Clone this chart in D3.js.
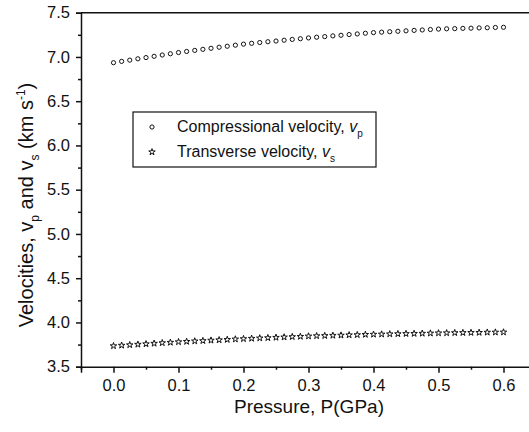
<!DOCTYPE html>
<html><head><meta charset="utf-8">
<script src="https://cdn.jsdelivr.net/npm/d3@7"></script>
<style>
body { margin: 0; background: #fff; }
text { font-family: "Liberation Sans", Arial, sans-serif; fill: #111; }
</style>
</head><body>
<svg id="chart" width="529" height="432"></svg>
<script>
var pressure = [0, 0.0125, 0.025, 0.0375, 0.05, 0.0625, 0.075, 0.0875,
    0.1, 0.1125, 0.125, 0.1375, 0.15, 0.1625, 0.175, 0.1875,
    0.2, 0.2125, 0.225, 0.2375, 0.25, 0.2625, 0.275, 0.2875,
    0.3, 0.3125, 0.325, 0.3375, 0.35, 0.3625, 0.375, 0.3875,
    0.4, 0.4125, 0.425, 0.4375, 0.45, 0.4625, 0.475, 0.4875,
    0.5, 0.5125, 0.525, 0.5375, 0.55, 0.5625, 0.575, 0.5875, 0.6];

var vp = [6.935, 6.950, 6.964, 6.979, 6.993, 7.007, 7.022, 7.036,
    7.050, 7.062, 7.074, 7.086, 7.098, 7.110, 7.121, 7.133,
    7.145, 7.154, 7.163, 7.172, 7.180, 7.189, 7.198, 7.206,
    7.215, 7.223, 7.230, 7.238, 7.245, 7.253, 7.260, 7.268,
    7.275, 7.280, 7.285, 7.290, 7.295, 7.300, 7.305, 7.310,
    7.315, 7.318, 7.320, 7.323, 7.325, 7.328, 7.330, 7.333, 7.335];

var vs = [3.735, 3.741, 3.746, 3.752, 3.757, 3.763, 3.769, 3.774,
    3.780, 3.784, 3.789, 3.793, 3.798, 3.802, 3.806, 3.811,
    3.815, 3.819, 3.823, 3.826, 3.830, 3.834, 3.838, 3.841,
    3.845, 3.848, 3.850, 3.853, 3.855, 3.858, 3.860, 3.863,
    3.865, 3.867, 3.869, 3.871, 3.873, 3.874, 3.876, 3.878,
    3.880, 3.881, 3.883, 3.884, 3.885, 3.886, 3.888, 3.889, 3.890];

var xTicks = [0, 0.1, 0.2, 0.3, 0.4, 0.5, 0.6];
var xMinor = [-0.05, 0.05, 0.15, 0.25, 0.35, 0.45, 0.55];
var yTicks = [3.5, 4.0, 4.5, 5.0, 5.5, 6.0, 6.5, 7.0, 7.5];
var yMinor = [3.75, 4.25, 4.75, 5.25, 5.75, 6.25, 6.75, 7.25];

var plotLeft = 81, plotTop = 12.7, plotBottom = 366.7;

var x = d3.scaleLinear().domain([-0.05, 0.65]).range([plotLeft, plotLeft + 455]);
var y = d3.scaleLinear().domain([3.5, 7.5]).range([plotBottom, plotTop]);

var svg = d3.select("#chart");

// top frame line
svg.append("line")
    .attr("x1", plotLeft).attr("x2", x(0.65))
    .attr("y1", plotTop).attr("y2", plotTop)
    .attr("stroke", "#111").attr("stroke-width", 1.5);

svg.append("g").attr("transform", "translate(0," + plotBottom + ")")
    .call(d3.axisBottom(x).tickValues(xTicks).tickFormat(d3.format(".1f")).tickSize(6).tickPadding(7));
svg.append("g").attr("transform", "translate(0," + plotBottom + ")")
    .call(d3.axisBottom(x).tickValues(xMinor).tickFormat("").tickSize(3))
    .select(".domain").remove();

svg.append("g").attr("transform", "translate(" + plotLeft + ",0)")
    .call(d3.axisLeft(y).tickValues(yTicks).tickFormat(d3.format(".1f")).tickSize(5).tickPadding(6));
svg.append("g").attr("transform", "translate(" + plotLeft + ",0)")
    .call(d3.axisLeft(y).tickValues(yMinor).tickFormat("").tickSize(3))
    .select(".domain").remove();

svg.selectAll(".domain, .tick line").attr("stroke", "#111").attr("stroke-width", 1.5);
svg.selectAll(".tick text").style("font-size", "16.5px").style("font-family", "'Liberation Sans', Arial, sans-serif").attr("fill", "#111");

// axis titles
svg.append("text")
    .attr("x", 309).attr("y", 413)
    .attr("text-anchor", "middle")
    .style("font-size", "19px")
    .text("Pressure, P(GPa)");

var yt = svg.append("text")
    .attr("transform", "translate(33,205) rotate(-90)")
    .attr("text-anchor", "middle")
    .style("font-size", "20px");
yt.append("tspan").text("Velocities, v");
yt.append("tspan").attr("dy", 6).style("font-size", "12px").text("p");
yt.append("tspan").attr("dy", -6).text(" and v");
yt.append("tspan").attr("dy", 6).style("font-size", "12px").text("s");
yt.append("tspan").attr("dy", -6).text(" (km s");
yt.append("tspan").attr("dy", -8).style("font-size", "12px").text("-1");
yt.append("tspan").attr("dy", 8).text(")");

// data
var star = d3.symbol().type(d3.symbolStar).size(13);

svg.append("g").selectAll("circle")
    .data(pressure)
    .enter().append("circle")
    .attr("cx", function(d) { return x(d); })
    .attr("cy", function(d, i) { return y(vp[i]); })
    .attr("r", 2.1)
    .attr("fill", "#fff").attr("stroke", "#111").attr("stroke-width", 1);

svg.append("g").selectAll("path")
    .data(pressure)
    .enter().append("path")
    .attr("d", star)
    .attr("transform", function(d, i) { return "translate(" + x(d) + "," + y(vs[i]) + ")"; })
    .attr("fill", "#fff").attr("stroke", "#111").attr("stroke-width", 1);

// legend
var lg = svg.append("g");
lg.append("rect")
    .attr("x", 133).attr("y", 112).attr("width", 243).attr("height", 55)
    .attr("fill", "#fff").attr("stroke", "#111").attr("stroke-width", 1.2);
lg.append("circle").attr("cx", 152).attr("cy", 127).attr("r", 2.1)
    .attr("fill", "#fff").attr("stroke", "#111");
lg.append("path").attr("d", star).attr("transform", "translate(152,152)")
    .attr("fill", "#fff").attr("stroke", "#111");

var t1 = lg.append("text").attr("x", 177).attr("y", 132).style("font-size", "16px");
t1.append("tspan").text("Compressional velocity, ");
t1.append("tspan").style("font-style", "italic").text("v");
t1.append("tspan").attr("dy", 5).style("font-size", "10px").text("p");

var t2 = lg.append("text").attr("x", 177).attr("y", 157).style("font-size", "16px");
t2.append("tspan").text("Transverse velocity, ");
t2.append("tspan").style("font-style", "italic").text("v");
t2.append("tspan").attr("dy", 5).style("font-size", "10px").text("s");
</script>
</body></html>
